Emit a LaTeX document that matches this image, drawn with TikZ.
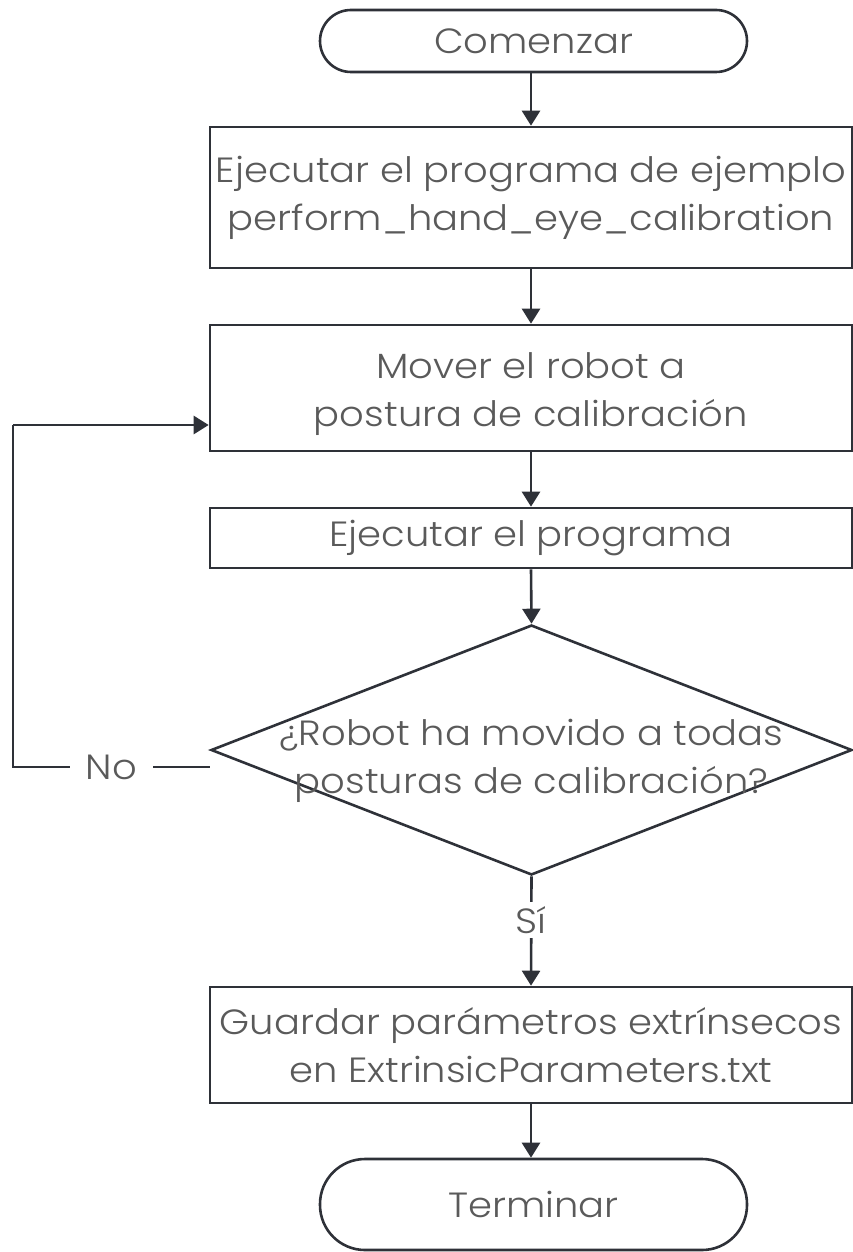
\documentclass[tikz,border=0pt]{standalone}
\usepackage{fontspec}
\setmainfont{Poppins}[UprightFont={* Light}, FakeStretch=1.1]
\usetikzlibrary{shapes.geometric,arrows.meta,calc}
\definecolor{linec}{HTML}{2E3138}
\definecolor{textc}{HTML}{5A5A5A}
\begin{document}
\begin{tikzpicture}[x=1pt,y=1pt,
  every node/.style={font=\fontsize{35}{48}\selectfont, text=textc, align=center},
  term/.style={draw=linec, line width=2.6pt, rectangle, rounded corners=31pt, minimum width=427pt, inner sep=0pt},
  procbox/.style={draw=linec, line width=2.6pt, rectangle, minimum width=642pt, inner sep=0pt},
  decbox/.style={draw=linec, line width=2.6pt, diamond, minimum width=641pt, minimum height=250pt, inner sep=0pt},
  conn/.style={draw=linec, line width=2.6pt, -{Triangle[length=15pt,width=18pt]}},
  plainconn/.style={draw=linec, line width=2.6pt},
  lbl/.style={fill=white, inner xsep=8pt, inner ysep=4pt}]
\useasboundingbox (0,0) rectangle (853,-1252);
\node[term, minimum height=62pt] (start) at (533.5,-41) {Comenzar};
\node[procbox, minimum height=141pt] (b1) at (531,-197.5) {Ejecutar el programa de ejemplo\\perform\_hand\_eye\_calibration};
\node[procbox, minimum height=126pt] (b2) at (531,-388) {};
\node (b2text) at (531,-394) {Mover el robot a\\postura de calibración};
\node[procbox, minimum height=60pt] (b3) at (531,-538) {Ejecutar el programa};
\node[decbox] (dec) at (531.5,-750) {};
\node (dectext) at (531.5,-761) {¿Robot ha movido a todas\\posturas de calibración?};
\node[procbox, minimum height=116pt] (b4) at (531,-1045) {Guardar parámetros extrínsecos\\en ExtrinsicParameters.txt};
\node[term, minimum height=91pt, rounded corners=45pt] (stop) at (533.5,-1204.5) {Terminar};
\coordinate (noend) at ($(dec.west)+(0,-17)$);
\coordinate (c1) at (13,-767);
\coordinate (c2) at (13,-425);
\coordinate (b2in) at ($(b2.west)+(0,-37)$);
\draw[conn] (start.south -| b1.north) -- (b1.north);
\draw[conn] (b1.south) -- (b2.north);
\draw[conn] (b2.south) -- (b3.north);
\draw[conn] (b3.south) -- (dec.north);
\draw[conn] (dec.south) -- node[lbl, pos=0.4] {Sí} (b4.north);
\draw[conn] (b4.south) -- (b4.south |- stop.north);
\draw[plainconn] (noend) -- node[lbl, inner xsep=16pt] {No} (c1) -- (c2);
\draw[conn] (c2) -- (b2in);
\end{tikzpicture}
\end{document}
